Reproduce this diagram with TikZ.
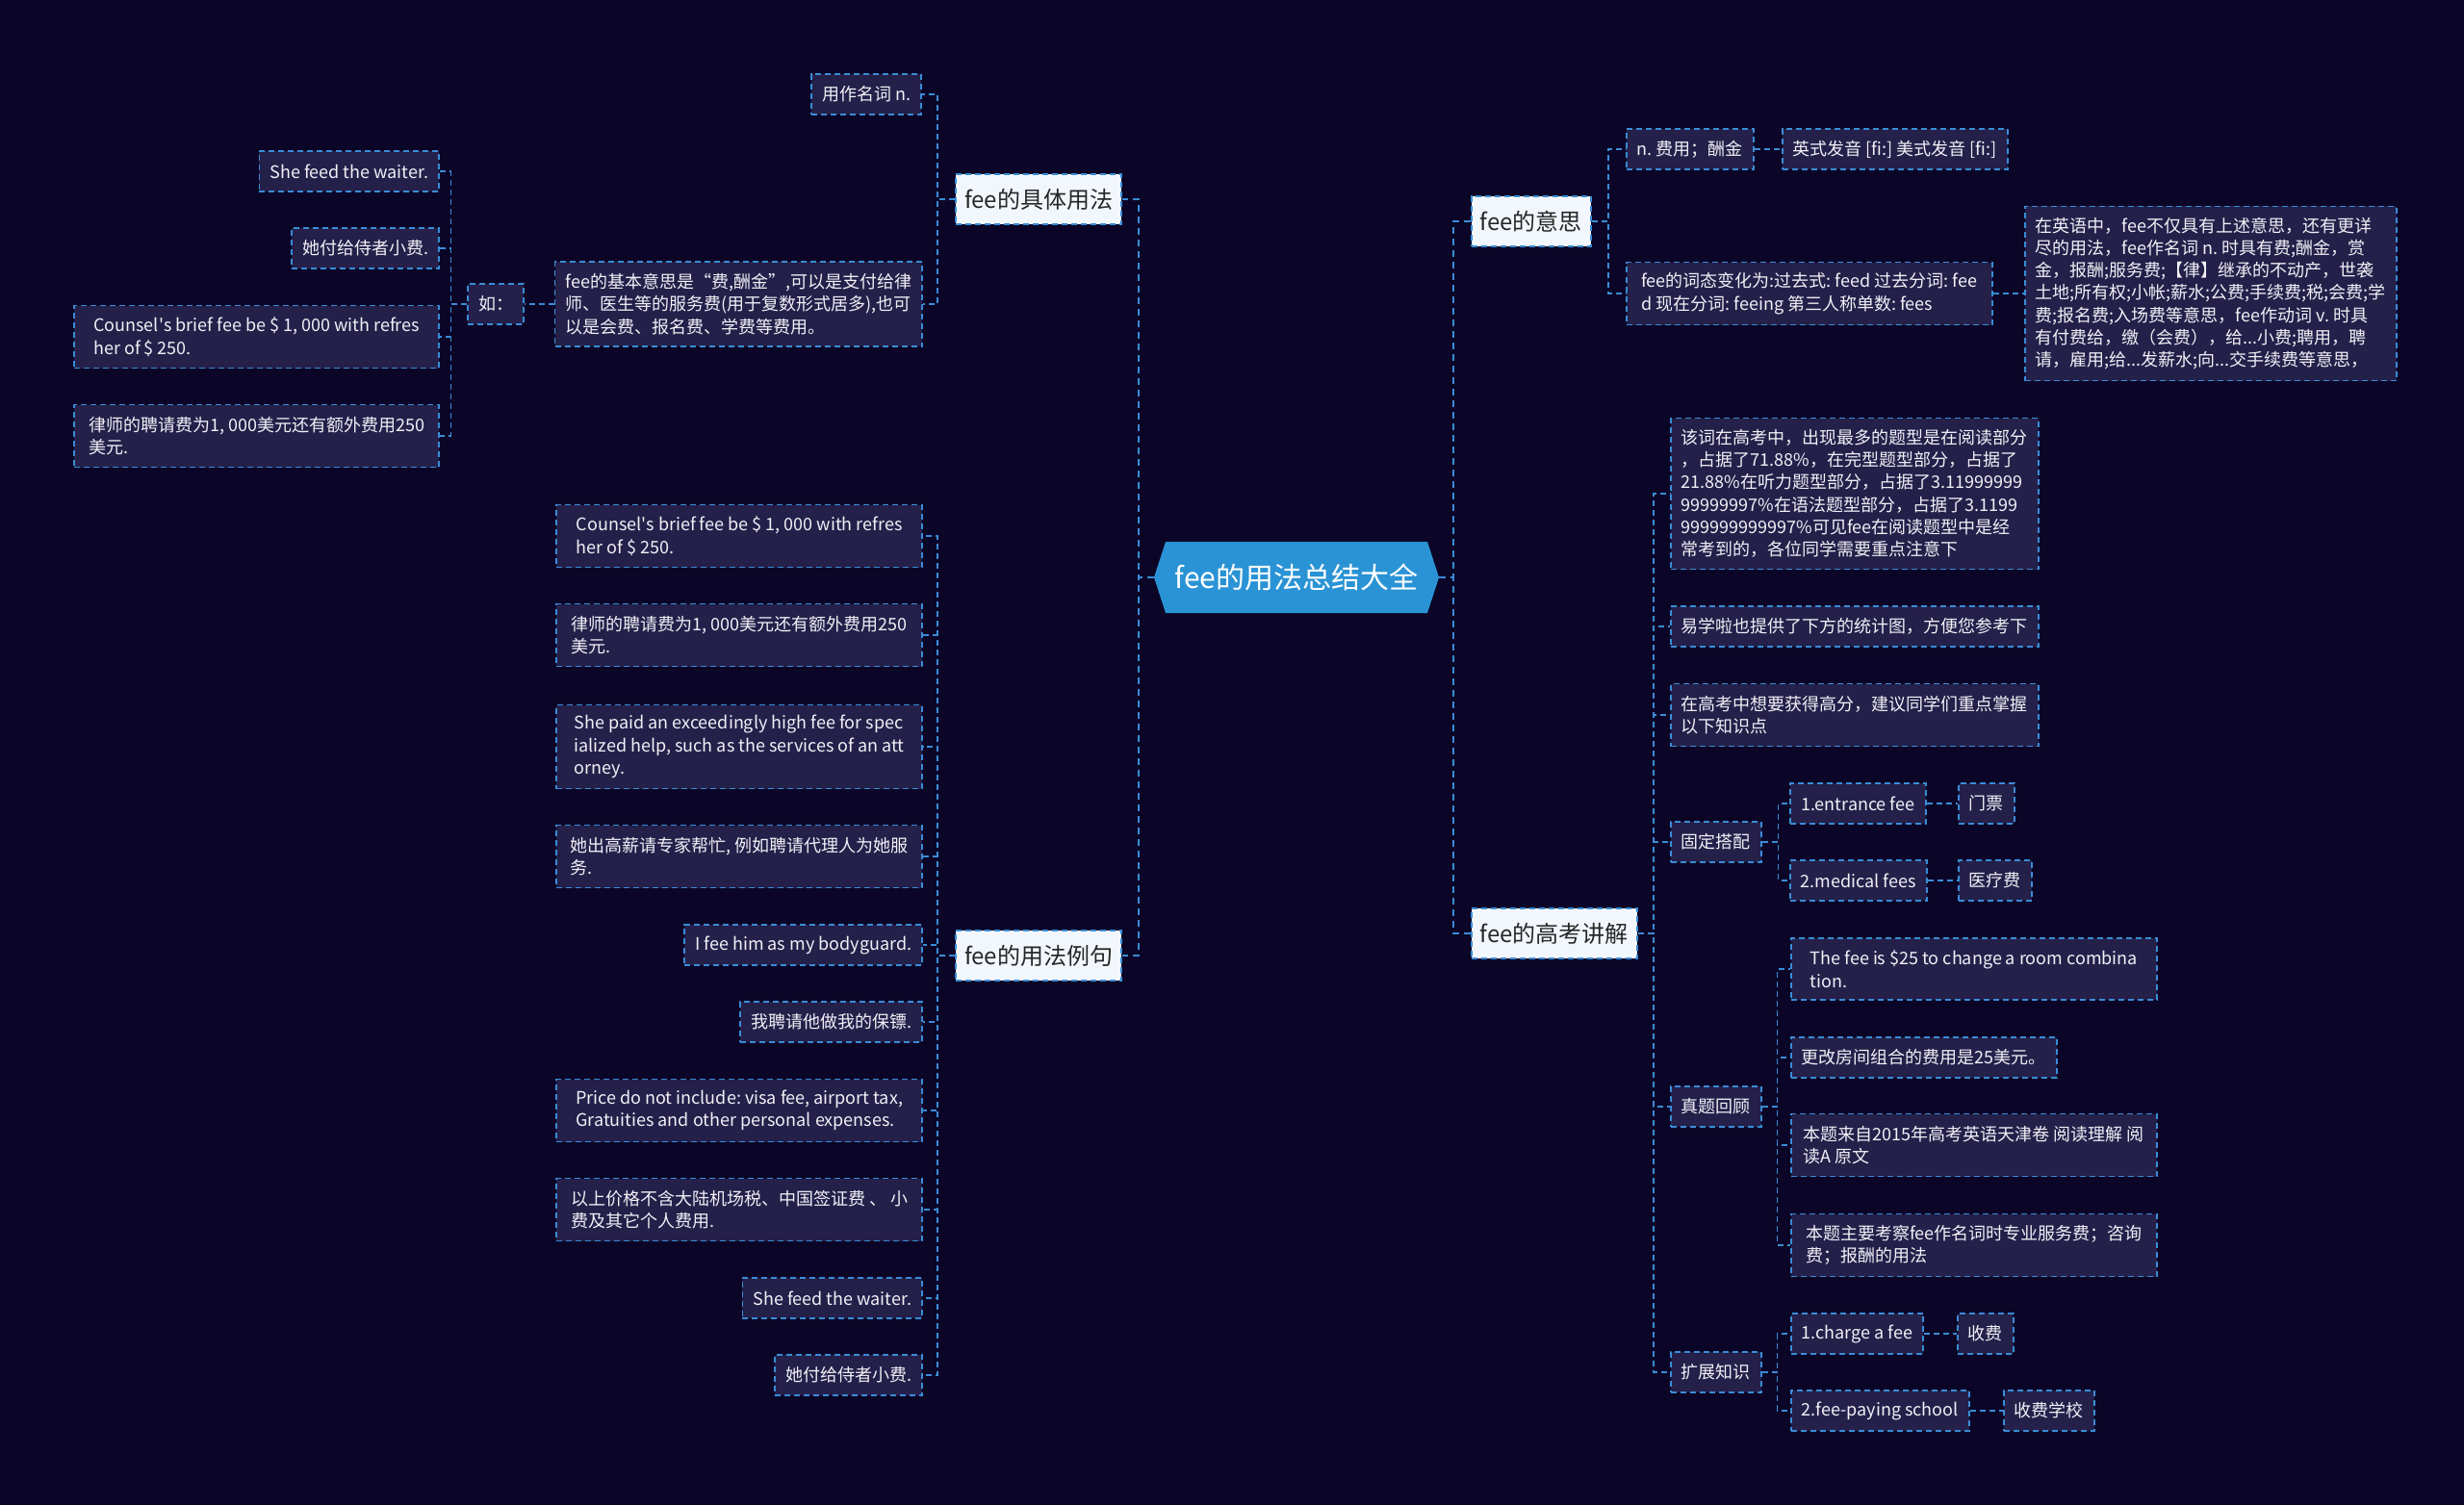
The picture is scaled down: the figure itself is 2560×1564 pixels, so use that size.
\documentclass[tikz,border=0pt]{standalone}
\usepackage{fontspec}
\setmainfont{Noto Sans CJK SC}
\usetikzlibrary{shapes.symbols}
\definecolor{night}{HTML}{0B0628}
\definecolor{hubblue}{HTML}{2A93D5}
\definecolor{wire}{HTML}{3A8CD6}
\definecolor{topicbg}{HTML}{F2F7FE}
\definecolor{topicink}{HTML}{262626}
\definecolor{leafbg}{HTML}{24204A}
\definecolor{leafink}{HTML}{F0F0F6}
\frenchspacing
\tikzset{
  hub/.style={signal, signal to=west and east, signal pointer angle=144, fill=hubblue, text=white,
              font=\fontsize{30bp}{36bp}\selectfont, minimum width=296bp, minimum height=74bp, inner sep=0pt},
  topic/.style={draw=wire, fill=topicbg, text=topicink, line width=1.6bp, dash pattern=on 6bp off 4bp,
                font=\fontsize{24bp}{29bp}\selectfont, minimum height=52bp, inner xsep=9bp},
  leaf/.style={draw=wire, fill=leafbg, text=leafink, line width=1.6bp, dash pattern=on 6bp off 4bp,
               font=\fontsize{18bp}{23.3bp}\selectfont, minimum height=42bp, inner xsep=11bp, inner ysep=0pt, align=left},
  para/.style={leaf, minimum width=#1},
  link/.style={draw=wire, line width=1.6bp, dash pattern=on 6bp off 4bp},
  spine/.style={draw=wire, line width=2.4bp, dash pattern=on 7bp off 5bp},
}

\begin{document}
\begin{tikzpicture}[x=1bp, y=-1bp]
  \fill[night] (0,0) rectangle (2560,1564);
  \useasboundingbox (0,0) rectangle (2560,1564);

  % centre and main topics
  \node[hub] (hub) at (1347,600) {fee的用法总结大全};
  \node[topic, anchor=east] (use) at (1166,207) {fee的具体用法};
  \node[topic, anchor=east] (exm) at (1166,993) {fee的用法例句};
  \node[topic, anchor=west] (mean) at (1528,230) {fee的意思};
  \node[topic, anchor=west] (exam) at (1528,970) {fee的高考讲解};

  % fee的具体用法
  \node[leaf, anchor=east] (noun) at (958,98) {用作名词 n.};
  \node[para=380bp, minimum height=88bp, anchor=east] (basic) at (959,316)
    {fee的基本意思是“费,酬金”,可以是支付给律\\师、医生等的服务费(用于复数形式居多),也可\\以是会费、报名费、学费等费用。};
  \node[leaf, anchor=east] (ru) at (545,316) {如：};
  \node[leaf, anchor=east] (ru1) at (457,178) {She feed the waiter.};
  \node[leaf, anchor=east] (ru2) at (457,258) {她付给侍者小费.};
  \node[para=379bp, minimum height=65bp, anchor=east] (ru3) at (457,350)
    {Counsel\textquotesingle s brief fee be \$ 1, 000 with refres\\her of \$ 250.};
  \node[para=379bp, minimum height=65bp, anchor=east] (ru4) at (457,453)
    {律师的聘请费为1, 000美元还有额外费用250\\美元.};

  % fee的用法例句
  \node[para=380bp, minimum height=65bp, anchor=east] (ex1) at (959,557)
    {Counsel\textquotesingle s brief fee be \$ 1, 000 with refres\\her of \$ 250.};
  \node[para=380bp, minimum height=65bp, anchor=east] (ex2) at (959,660)
    {律师的聘请费为1, 000美元还有额外费用250\\美元.};
  \node[para=380bp, minimum height=87bp, anchor=east] (ex3) at (959,776)
    {She paid an exceedingly high fee for spec\\ialized help, such as the services of an att\\orney.};
  \node[para=380bp, minimum height=65bp, anchor=east] (ex4) at (959,890)
    {她出高薪请专家帮忙, 例如聘请代理人为她服\\务.};
  \node[leaf, anchor=east] (ex5) at (959,982) {I fee him as my bodyguard.};
  \node[leaf, anchor=east] (ex6) at (959,1062) {我聘请他做我的保镖.};
  \node[para=380bp, minimum height=65bp, anchor=east] (ex7) at (959,1154)
    {Price do not include: visa fee, airport tax,\\Gratuities and other personal expenses.};
  \node[para=380bp, minimum height=65bp, anchor=east] (ex8) at (959,1257)
    {以上价格不含大陆机场税、中国签证费 、 小\\费及其它个人费用.};
  \node[leaf, anchor=east] (ex9) at (959,1349) {She feed the waiter.};
  \node[leaf, anchor=east] (ex10) at (959,1429) {她付给侍者小费.};

  % fee的意思
  \node[leaf, anchor=west] (sense) at (1689,155) {n. 费用；酬金};
  \node[leaf, anchor=west] (say) at (1851,155) {英式发音 [fi:] 美式发音 [fi:]};
  \node[para=380bp, minimum height=65bp, anchor=west] (forms) at (1689,305)
    {fee的词态变化为:过去式: feed 过去分词: fee\\d 现在分词: feeing 第三人称单数: fees};
  \node[para=379bp, minimum height=181bp, anchor=west] (more) at (2103,305)
    {在英语中，fee不仅具有上述意思，还有更详\\尽的用法，fee作名词 n. 时具有费;酬金，赏\\金，报酬;服务费;【律】继承的不动产，世袭\\土地;所有权;小帐;薪水;公费;手续费;税;会费;学\\费;报名费;入场费等意思，fee作动词 v. 时具\\有付费给，缴（会费），给...小费;聘用，聘\\请，雇用;给...发薪水;向...交手续费等意思，};

  % fee的高考讲解
  \node[para=381bp, minimum height=157bp, anchor=west] (stat) at (1735,513)
    {该词在高考中，出现最多的题型是在阅读部分\\，占据了71.88\%，在完型题型部分，占据了\\21.88\%在听力题型部分，占据了3.11999999\\99999997\%在语法题型部分，占据了3.1199\\999999999997\%可见fee在阅读题型中是经\\常考到的，各位同学需要重点注意下};
  \node[leaf, anchor=west] (chart) at (1735,651) {易学啦也提供了下方的统计图，方便您参考下};
  \node[para=381bp, minimum height=65bp, anchor=west] (tip) at (1735,743)
    {在高考中想要获得高分，建议同学们重点掌握\\以下知识点};
  \node[leaf, anchor=west] (fix) at (1735,875) {固定搭配};
  \node[leaf, anchor=west, minimum width=141bp] (fix1) at (1859,835) {1.entrance fee};
  \node[leaf, anchor=west] (fix1cn) at (2034,835) {门票};
  \node[leaf, anchor=west, minimum width=141bp] (fix2) at (1859,915) {2.medical fees};
  \node[leaf, anchor=west] (fix2cn) at (2034,915) {医疗费};
  \node[leaf, anchor=west] (past) at (1735,1150) {真题回顾};
  \node[para=380bp, minimum height=64bp, anchor=west] (past1) at (1860,1007)
    {The fee is \$25 to change a room combina\\tion.};
  \node[leaf, anchor=west] (past2) at (1860,1099) {更改房间组合的费用是25美元。};
  \node[para=380bp, minimum height=65bp, anchor=west] (past3) at (1860,1190)
    {本题来自2015年高考英语天津卷 阅读理解 阅\\读A 原文};
  \node[para=380bp, minimum height=65bp, anchor=west] (past4) at (1860,1294)
    {本题主要考察fee作名词时专业服务费；咨询\\费；报酬的用法};
  \node[leaf, anchor=west] (ext) at (1735,1426) {扩展知识};
  \node[leaf, anchor=west] (ext1) at (1860,1386) {1.charge a fee};
  \node[leaf, anchor=west] (ext1cn) at (2033,1386) {收费};
  \node[leaf, anchor=west] (ext2) at (1860,1466) {2.fee-paying school};
  \node[leaf, anchor=west] (ext2cn) at (2081,1466) {收费学校};

  % connectors
  \draw[spine] (hub.west) -- ++(-16,0) |- (use.east);
  \draw[spine] (hub.west) -- ++(-16,0) |- (exm.east);
  \draw[spine] (hub.east) -- ++(15,0) |- (mean.west);
  \draw[spine] (hub.east) -- ++(15,0) |- (exam.west);
  \foreach \c in {noun, basic}
    \draw[link] (use.west) -- ++(-18,0) |- (\c.east);
  \draw[link] (basic.west) -- (ru.east);
  \foreach \c in {ru1, ru2, ru3, ru4}
    \draw[link] (ru.west) -- ++(-17,0) |- (\c.east);
  \foreach \c in {ex1, ex2, ex3, ex4, ex5, ex6, ex7, ex8, ex9, ex10}
    \draw[link] (exm.west) -- ++(-18,0) |- (\c.east);
  \foreach \c in {sense, forms}
    \draw[link] (mean.east) -- ++(17,0) |- (\c.west);
  \draw[link] (sense.east) -- (say.west);
  \draw[link] (forms.east) -- (more.west);
  \foreach \c in {stat, chart, tip, fix, past, ext}
    \draw[link] (exam.east) -- ++(16,0) |- (\c.west);
  \foreach \c in {fix1, fix2}
    \draw[link] (fix.east) -- ++(17,0) |- (\c.west);
  \draw[link] (fix1.east) -- (fix1cn.west);
  \draw[link] (fix2.east) -- (fix2cn.west);
  \foreach \c in {past1, past2, past3, past4}
    \draw[link] (past.east) -- ++(16,0) |- (\c.west);
  \foreach \c in {ext1, ext2}
    \draw[link] (ext.east) -- ++(16,0) |- (\c.west);
  \draw[link] (ext1.east) -- (ext1cn.west);
  \draw[link] (ext2.east) -- (ext2cn.west);
\end{tikzpicture}
\end{document}
